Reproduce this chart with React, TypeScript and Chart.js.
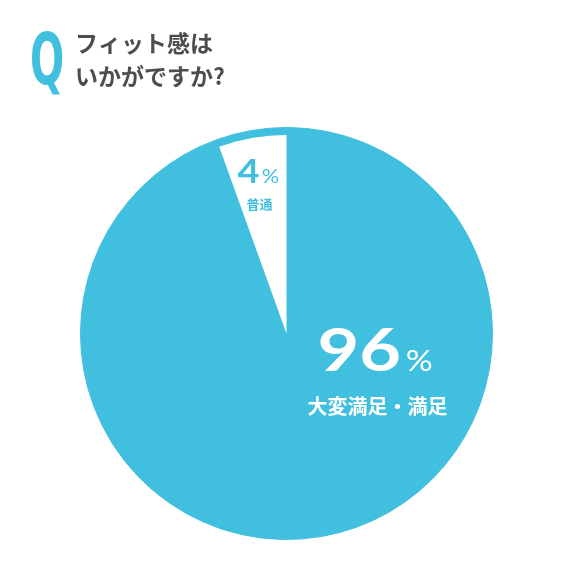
import React, { useEffect, useRef } from 'react'
import { Chart, registerables } from 'chart.js'

Chart.register(...registerables)

const categories = ['大変満足・満足', '普通']
// printed percentages
const percents = [96, 4]
// share of the circle each wedge takes in the picture (the small wedge is drawn ~20°)
const wedgeShares = [94.5, 5.5]
const titleLines = ['フィット感は', 'いかがですか?']

const CYAN = '#41bfdf'
const GRAY = '#4d4d4d'

const labelPlugin = {
  id: 'labelPlugin',
  afterDraw(chart: Chart) {
    const ctx = chart.ctx
    const arcs = chart.getDatasetMeta(0).data as any[]
    if (!arcs.length) return
    const cx = arcs[0].x
    const cy = arcs[0].y

    ctx.save()
    // Q mark, condensed
    ctx.fillStyle = CYAN
    ctx.textBaseline = 'alphabetic'
    ctx.textAlign = 'left'
    ctx.save()
    ctx.translate(30, 84)
    ctx.scale(0.56, 1)
    ctx.font = "bold 72px 'DejaVu Sans'"
    ctx.fillText('Q', 0, 0)
    ctx.restore()

    // title
    ctx.fillStyle = GRAY
    ctx.font = "bold 23px 'Noto Sans CJK JP'"
    ctx.textBaseline = 'middle'
    titleLines.forEach((line, i) => ctx.fillText(line, 75, 43 + i * 33))

    // big slice label
    ctx.fillStyle = '#ffffff'
    ctx.textBaseline = 'alphabetic'
    ctx.textAlign = 'left'
    const big = String(percents[0])
    const bx = cx + 31
    const by = cy + 37
    ctx.save()
    ctx.translate(bx, by)
    ctx.scale(1.2, 1)
    ctx.font = "bold 60px Lato"
    ctx.fillText(big, 0, 0)
    const bw = ctx.measureText(big).width
    ctx.font = "28px Lato"
    ctx.fillText('%', bw + 4, 0)
    ctx.restore()
    ctx.textAlign = 'center'
    ctx.textBaseline = 'middle'
    ctx.font = "bold 20px 'Noto Sans CJK JP'"
    ctx.fillText(categories[0], cx + 91, cy + 73)

    // small slice label
    ctx.fillStyle = CYAN
    ctx.textAlign = 'left'
    ctx.textBaseline = 'alphabetic'
    const small = String(percents[1])
    ctx.save()
    ctx.translate(cx - 49, cy - 151)
    ctx.scale(1.15, 1)
    ctx.font = "bold 33px Lato"
    ctx.fillText(small, 0, 0)
    const sw = ctx.measureText(small).width
    ctx.font = "19px Lato"
    ctx.fillText('%', sw + 2, 0)
    ctx.restore()
    ctx.textAlign = 'center'
    ctx.textBaseline = 'middle'
    ctx.font = "bold 13px 'Noto Sans CJK JP'"
    ctx.fillText(categories[1], cx - 27, cy - 129)
    ctx.restore()
  }
}

const App = () => {
  const chartRef = useRef<HTMLCanvasElement>(null)
  const chartInstance = useRef<Chart>()

  useEffect(() => {
    if (!chartRef.current) return
    if (chartInstance.current) chartInstance.current.destroy()
    const ctx = chartRef.current.getContext('2d')
    if (!ctx) return
    chartInstance.current = new Chart(ctx, {
      type: 'pie',
      data: {
        labels: categories,
        datasets: [
          {
            // thin outer rim, all cyan
            data: wedgeShares,
            backgroundColor: [CYAN, CYAN],
            borderColor: CYAN,
            borderWidth: 1,
            weight: 7
          },
          {
            data: wedgeShares,
            backgroundColor: [CYAN, '#ffffff'],
            borderColor: [CYAN, 'rgba(0,0,0,0)'],
            borderWidth: [1, 0],
            weight: 199.5
          }
        ]
      },
      options: {
        responsive: true,
        maintainAspectRatio: false,
        animation: false,
        layout: { padding: { left: 80, right: 83, top: 127, bottom: 36 } },
        plugins: {
          legend: { display: false },
          tooltip: { enabled: false }
        }
      },
      plugins: [labelPlugin]
    })

    return () => {
      if (chartInstance.current) chartInstance.current.destroy()
    }
  }, [])

  return (
    <div style={{ position: 'fixed', left: 0, top: 0, width: 576, height: 576, background: '#fff' }}>
      <canvas ref={chartRef} />
    </div>
  )
}

export default App
